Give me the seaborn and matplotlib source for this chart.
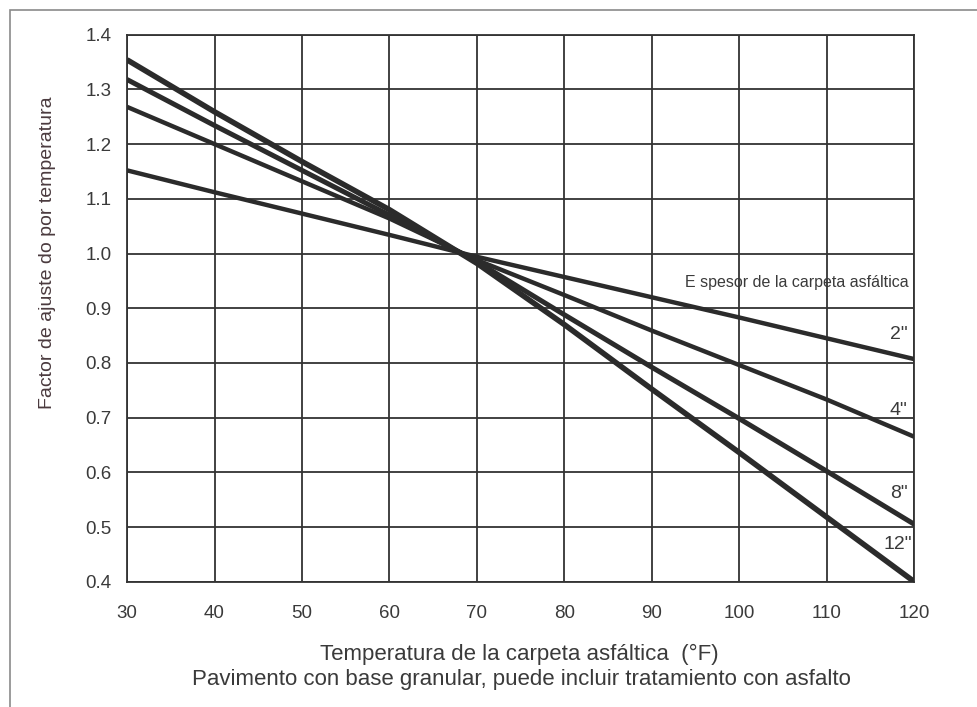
import pandas as pd
import matplotlib.pyplot as plt
import seaborn as sns
from matplotlib.patches import Rectangle

# --- DATA ---
temps = [30, 40, 50, 60, 70, 80, 90, 100, 110, 120]
esp_2 = [1.152, 1.112, 1.073, 1.034, 0.994, 0.957, 0.920, 0.883, 0.845, 0.807]
esp_4 = [1.268, 1.200, 1.132, 1.064, 0.988, 0.924, 0.859, 0.796, 0.733, 0.665]
esp_8 = [1.318, 1.234, 1.152, 1.070, 0.985, 0.888, 0.792, 0.698, 0.602, 0.505]
esp_12 = [1.354, 1.259, 1.168, 1.080, 0.982, 0.870, 0.752, 0.636, 0.518, 0.400]
espesores = ['2"', '4"', '8"', '12"']
label_y = [0.852, 0.713, 0.561, 0.468]
label_x = [119.2, 119.2, 119.2, 119.7]

df = pd.DataFrame({
    'Temperatura': temps * 4,
    'Factor': esp_2 + esp_4 + esp_8 + esp_12,
    'Espesor': sum([[e] * len(temps) for e in espesores], []),
})

# --- STYLE ---
sns.set_style("white")
plt.rcParams['font.family'] = ['Liberation Sans', 'DejaVu Sans']
txt = '#3a3a3a'
ink = '#2b2b2b'

fig = plt.figure(figsize=(9.77, 7.07), dpi=100)
ax = fig.add_axes([0.130, 0.177, 0.806, 0.774])

sns.lineplot(data=df, x='Temperatura', y='Factor', hue='Espesor', size='Espesor',
             sizes={'2"': 3.2, '4"': 3.2, '8"': 3.6, '12"': 4.0},
             palette={e: ink for e in espesores}, legend=False, ax=ax,
             solid_capstyle='butt', zorder=3)

ax.set_xlim(30, 120)
ax.set_ylim(0.4, 1.4)
ax.set_xticks(range(30, 121, 10))
ax.set_yticks([0.4 + 0.1 * i for i in range(11)])
ax.set_yticklabels([f'{0.4 + 0.1 * i:.1f}' for i in range(11)])
ax.grid(True, color='#333333', linewidth=1.3, zorder=1)
for s in ax.spines.values():
    s.set_color('#333333')
    s.set_linewidth(1.3)
ax.tick_params(length=0, labelsize=13.5, labelcolor=txt)
ax.tick_params(axis='x', pad=17)
ax.tick_params(axis='y', pad=11)
ax.set_xlabel('')
ax.set_ylabel('')

# axis titles
fig.text(0.532, 1 - 654 / 707, 'Temperatura de la carpeta asfáltica  (°F)',
         fontsize=16, color=txt, ha='center', va='center')
fig.text(0.534, 1 - 679 / 707,
         'Pavimento con base granular, puede incluir tratamiento con asfalto',
         fontsize=16, color=txt, ha='center', va='center')
fig.text(48 / 977, 1 - 253 / 707, 'Factor de ajuste do por temperatura',
         fontsize=14, color='#4a3a3e', ha='center', va='center', rotation=90)

# curve labels
ax.text(119.3, 0.947, 'E spesor de la carpeta asfáltica', fontsize=11.5, color=txt,
        ha='right', va='center')
for e, xx, yy in zip(espesores, label_x, label_y):
    ax.text(xx, yy, e, fontsize=14, color=txt, ha='right', va='center')

# outer frame of the scanned figure
fig.patches.append(Rectangle((10 / 977, -0.05), 1.1, 1 - 10 / 707 + 0.05,
                             transform=fig.transFigure, fill=False,
                             edgecolor='#8a8a8a', linewidth=1.2))

fig.savefig('out.png', dpi=100)
